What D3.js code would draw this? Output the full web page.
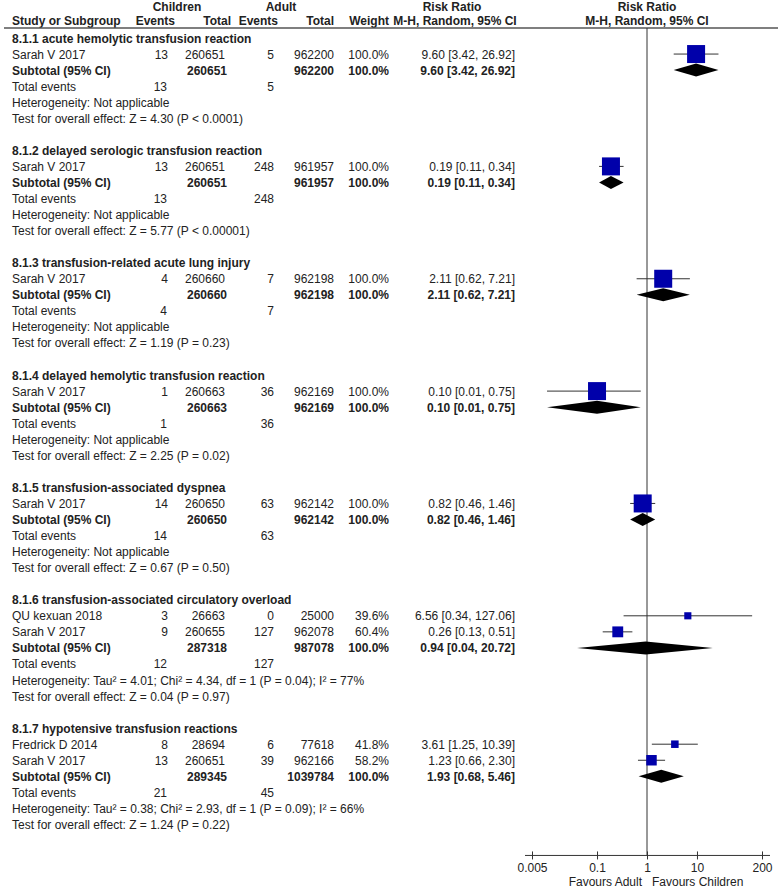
<!DOCTYPE html>
<html>
<head>
<meta charset="utf-8">
<script src="https://cdn.jsdelivr.net/npm/d3@7"></script>
<style>
  body { margin: 0; background: #fff; }
  svg text { font-family: "Liberation Sans", Arial, sans-serif; font-size: 12px; fill: #222; }
  svg text.b { font-weight: bold; }
</style>
</head>
<body>
<svg id="chart" width="780" height="888"></svg>
<script>
/*
Data
*/

const groupLabels = [
  "8.1.1 acute hemolytic transfusion reaction",
  "8.1.2 delayed serologic transfusion reaction",
  "8.1.3 transfusion-related acute lung injury",
  "8.1.4 delayed hemolytic transfusion reaction",
  "8.1.5 transfusion-associated dyspnea",
  "8.1.6 transfusion-associated circulatory overload",
  "8.1.7 hypotensive transfusion reactions"
];

// one entry per study row
const studyGroup    = [0, 1, 2, 3, 4, 5, 5, 6, 6];
const studyNames    = ["Sarah V 2017", "Sarah V 2017", "Sarah V 2017", "Sarah V 2017", "Sarah V 2017",
                       "QU kexuan 2018", "Sarah V 2017", "Fredrick D 2014", "Sarah V 2017"];
const childEvents   = [13, 13, 4, 1, 14, 3, 9, 8, 13];
const childTotals   = [260651, 260651, 260660, 260663, 260650, 26663, 260655, 28694, 260651];
const adultEvents   = [5, 248, 7, 36, 63, 0, 127, 6, 39];
const adultTotals   = [962200, 961957, 962198, 962169, 962142, 25000, 962078, 77618, 962166];
const studyWeights  = [100.0, 100.0, 100.0, 100.0, 100.0, 39.6, 60.4, 41.8, 58.2];
const studyRR       = [9.60, 0.19, 2.11, 0.10, 0.82, 6.56, 0.26, 3.61, 1.23];
const studyLow      = [3.42, 0.11, 0.62, 0.01, 0.46, 0.34, 0.13, 1.25, 0.66];
const studyHigh     = [26.92, 0.34, 7.21, 0.75, 1.46, 127.06, 0.51, 10.39, 2.30];

// one entry per subgroup
const subChildTotals   = [260651, 260651, 260660, 260663, 260650, 287318, 289345];
const subAdultTotals   = [962200, 961957, 962198, 962169, 962142, 987078, 1039784];
const subRR            = [9.60, 0.19, 2.11, 0.10, 0.82, 0.94, 1.93];
const subLow           = [3.42, 0.11, 0.62, 0.01, 0.46, 0.04, 0.68];
const subHigh          = [26.92, 0.34, 7.21, 0.75, 1.46, 20.72, 5.46];
const childEventTotals = [13, 13, 4, 1, 14, 12, 21];
const adultEventTotals = [5, 248, 7, 36, 63, 127, 45];
const heterogeneity = [
  "Heterogeneity: Not applicable",
  "Heterogeneity: Not applicable",
  "Heterogeneity: Not applicable",
  "Heterogeneity: Not applicable",
  "Heterogeneity: Not applicable",
  "Heterogeneity: Tau² = 4.01; Chi² = 4.34, df = 1 (P = 0.04); I² = 77%",
  "Heterogeneity: Tau² = 0.38; Chi² = 2.93, df = 1 (P = 0.09); I² = 66%"
];
const overallEffect = [
  "Test for overall effect: Z = 4.30 (P < 0.0001)",
  "Test for overall effect: Z = 5.77 (P < 0.00001)",
  "Test for overall effect: Z = 1.19 (P = 0.23)",
  "Test for overall effect: Z = 2.25 (P = 0.02)",
  "Test for overall effect: Z = 0.67 (P = 0.50)",
  "Test for overall effect: Z = 0.04 (P = 0.97)",
  "Test for overall effect: Z = 1.24 (P = 0.22)"
];

const axisTicks = [0.005, 0.1, 1, 10, 200];

/*
Layout
*/

const rowH   = 16.05;
const firstY = 38;
const col = { name: 12, cEv: 168, cTot: 225, aEv: 274, aTot: 334, wt: 389, rr: 515 };

const fmt = v => v.toFixed(2);
const ciText = (r, l, h) => fmt(r) + " [" + fmt(l) + ", " + fmt(h) + "]";

// build row list
let rows = [];
groupLabels.forEach((g, gi) => {
  rows.push({ type: "head", g: gi });
  studyGroup.forEach((sg, si) => { if (sg === gi) rows.push({ type: "study", s: si }); });
  rows.push({ type: "sub", g: gi });
  rows.push({ type: "events", g: gi });
  rows.push({ type: "het", g: gi });
  rows.push({ type: "test", g: gi });
  rows.push({ type: "blank" });
});
rows.forEach((r, i) => r.y = firstY + i * rowH);
const lastY = rows[rows.length - 2].y;
const axisY = lastY + 31;

const x = d3.scaleLog().domain([0.005, 200]).range([532, 762]);

const svg = d3.select("#chart");

/*
Header
*/

const hdr = svg.append("g").classed("header", true);
const addText = (g, t, xx, yy, anchor, bold) =>
  g.append("text").attr("x", xx).attr("y", yy).attr("text-anchor", anchor || "start")
    .classed("b", !!bold).text(t);

addText(hdr, "Children", 177, 11, "middle", true);
addText(hdr, "Adult", 281, 11, "middle", true);
addText(hdr, "Risk Ratio", 452, 11, "middle", true);
addText(hdr, "Risk Ratio", 647, 11, "middle", true);
addText(hdr, "Study or Subgroup", col.name, 25, "start", true);
addText(hdr, "Events", 175, 25, "end", true);
addText(hdr, "Total", 231, 25, "end", true);
addText(hdr, "Events", 278, 25, "end", true);
addText(hdr, "Total", 334, 25, "end", true);
addText(hdr, "Weight", 389, 25, "end", true);
addText(hdr, "M-H, Random, 95% CI", 455, 25, "middle", true);
addText(hdr, "M-H, Random, 95% CI", 647, 25, "middle", true);

hdr.append("line")
  .attr("x1", 4).attr("x2", 778).attr("y1", 28).attr("y2", 28)
  .attr("stroke", "#555").attr("stroke-width", 1.5);

/*
Null line
*/

svg.append("line")
  .attr("x1", x(1)).attr("x2", x(1)).attr("y1", 28).attr("y2", axisY)
  .attr("stroke", "#333").attr("stroke-width", 1);

/*
Table rows
*/

const body = svg.append("g").classed("rows", true);

rows.forEach(r => {
  const ty = r.y + 4.5;
  if (r.type === "head") {
    addText(body, groupLabels[r.g], col.name, ty, "start", true);
  } else if (r.type === "study") {
    const s = r.s;
    addText(body, studyNames[s], col.name, ty);
    addText(body, childEvents[s], col.cEv, ty, "end");
    addText(body, childTotals[s], col.cTot, ty, "end");
    addText(body, adultEvents[s], col.aEv, ty, "end");
    addText(body, adultTotals[s], col.aTot, ty, "end");
    addText(body, studyWeights[s].toFixed(1) + "%", col.wt, ty, "end");
    addText(body, ciText(studyRR[s], studyLow[s], studyHigh[s]), col.rr, ty, "end");
  } else if (r.type === "sub") {
    const g = r.g;
    addText(body, "Subtotal (95% CI)", col.name, ty, "start", true);
    addText(body, subChildTotals[g], col.cTot + 2, ty, "end", true);
    addText(body, subAdultTotals[g], col.aTot, ty, "end", true);
    addText(body, "100.0%", col.wt, ty, "end", true);
    addText(body, ciText(subRR[g], subLow[g], subHigh[g]), col.rr, ty, "end", true);
  } else if (r.type === "events") {
    addText(body, "Total events", col.name, ty);
    addText(body, childEventTotals[r.g], col.cEv - 1, ty, "end");
    addText(body, adultEventTotals[r.g], col.aEv, ty, "end");
  } else if (r.type === "het") {
    addText(body, heterogeneity[r.g], col.name, ty);
  } else if (r.type === "test") {
    addText(body, overallEffect[r.g], col.name, ty);
  }
});

/*
Forest marks
*/

const studyRows = rows.filter(r => r.type === "study");
const subRows   = rows.filter(r => r.type === "sub");

svg.append("g").classed("ci", true)
  .selectAll("line")
  .data(studyRows)
  .enter()
  .append("line")
  .attr("x1", d => x(studyLow[d.s]))
  .attr("x2", d => x(studyHigh[d.s]))
  .attr("y1", d => d.y)
  .attr("y2", d => d.y)
  .attr("stroke", "#333")
  .attr("stroke-width", 1);

svg.append("g").classed("squares", true)
  .selectAll("rect")
  .data(studyRows)
  .enter()
  .append("rect")
  .attr("x", d => x(studyRR[d.s]) - 9 * studyWeights[d.s] / 100)
  .attr("y", d => d.y - 9 * studyWeights[d.s] / 100)
  .attr("width", d => 18 * studyWeights[d.s] / 100)
  .attr("height", d => 18 * studyWeights[d.s] / 100)
  .attr("fill", "#0000aa");

svg.append("g").classed("diamonds", true)
  .selectAll("path")
  .data(subRows)
  .enter()
  .append("path")
  .attr("d", d => {
    const g = d.g, h = 6.5;
    return "M" + x(subLow[g]) + "," + d.y +
           "L" + x(subRR[g]) + "," + (d.y - h) +
           "L" + x(subHigh[g]) + "," + d.y +
           "L" + x(subRR[g]) + "," + (d.y + h) + "Z";
  })
  .attr("fill", "#000");

/*
Axis
*/

const axis = svg.append("g")
  .attr("transform", "translate(0," + axisY + ")")
  .call(d3.axisBottom(x).tickValues(axisTicks).tickFormat(d => String(d)).tickSizeOuter(0));

axis.select(".domain").remove();
axis.append("line")
  .attr("x1", x(0.005) - 7).attr("x2", x(200) + 8)
  .attr("stroke", "#333").attr("stroke-width", 1);
axis.selectAll(".tick line").attr("y1", -4).attr("y2", 4).attr("stroke", "#333");
axis.selectAll(".tick text")
  .attr("y", 8)
  .style("font-family", "'Liberation Sans', Arial, sans-serif")
  .style("font-size", "12px")
  .attr("fill", "#222");

addText(svg, "Favours Adult", 642, axisY + 31, "end");
addText(svg, "Favours Children", 652, axisY + 31, "start");
</script>
</body>
</html>
